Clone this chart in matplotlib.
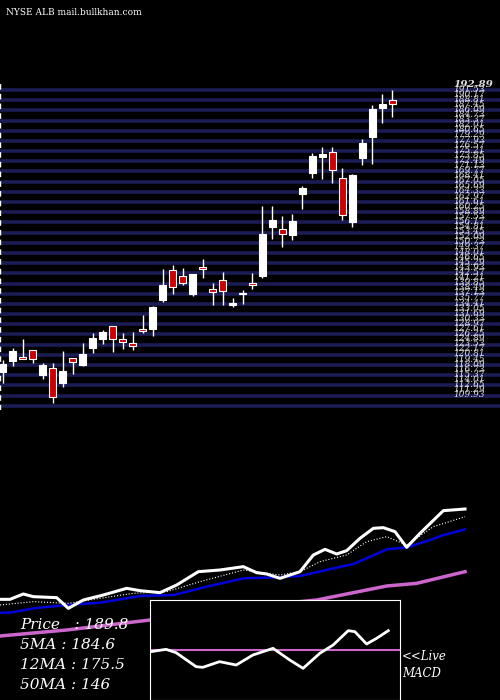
import numpy as np
import matplotlib
matplotlib.use("Agg")
import matplotlib.pyplot as plt

# candles: open, high, low, close
opens  = [117.6, 120.5, 121.6, 123.5, 116.8, 118.7, 114.7, 121.3, 119.5, 124.0,
          126.4, 129.9, 126.4, 125.3, 129.1, 129.1, 136.8, 144.8, 143.2, 138.4,
          145.6, 139.8, 142.2, 135.5, 138.3, 141.4, 143.2, 156.3, 155.8, 154.2,
          165.1, 170.7, 175.0, 176.3, 169.4, 157.6, 174.7, 180.3, 188.1, 190.2]
highs  = [120.8, 124.0, 126.4, 123.5, 120.0, 120.0, 123.2, 121.3, 125.3, 128.0,
          128.8, 129.9, 128.0, 128.3, 132.8, 135.2, 145.1, 146.2, 145.4, 143.8,
          147.8, 141.4, 144.3, 137.3, 139.5, 144.0, 161.9, 161.9, 159.2, 159.8,
          167.3, 176.1, 177.7, 177.7, 172.1, 170.5, 179.8, 188.9, 191.8, 192.9]
lows   = [114.7, 119.2, 121.1, 120.0, 115.7, 109.3, 113.6, 117.1, 119.2, 122.7,
          125.1, 122.9, 123.7, 123.5, 128.0, 127.2, 136.3, 138.4, 140.8, 137.9,
          142.7, 135.5, 135.5, 134.9, 135.8, 139.8, 142.7, 153.1, 151.0, 152.8,
          161.1, 169.4, 169.1, 168.1, 158.2, 156.3, 172.9, 173.1, 184.1, 185.7]
closes = [119.7, 123.2, 121.2, 121.1, 119.5, 110.9, 117.9, 120.3, 122.4, 126.7,
          128.3, 126.4, 125.6, 124.5, 128.5, 134.9, 140.8, 140.3, 141.4, 143.8,
          145.1, 139.0, 139.2, 136.0, 138.7, 140.8, 154.4, 158.2, 154.4, 157.9,
          166.7, 175.3, 175.8, 171.5, 159.5, 170.2, 178.7, 187.8, 189.2, 189.2]

# lower panel (screen-like units, y grows downward)
px_x = [0, 30, 70, 100, 170, 205, 250, 310, 380, 420, 480, 530, 595, 660, 730, 770,
        800, 840, 900, 940, 975, 1010, 1040, 1080, 1120, 1150, 1185, 1220, 1260, 1330, 1395]
px_y = [328, 328, 312, 320, 323, 355, 330, 315, 295, 302, 308, 285, 245, 240, 230, 248,
        252, 265, 245, 195, 178, 192, 182, 145, 115, 113, 125, 172, 130, 62, 57]
ma5_x = [0, 100, 205, 300, 400, 500, 600, 730, 840, 900, 960, 1040, 1100, 1160, 1220, 1300, 1395]
ma5_y = [345, 335, 340, 325, 310, 305, 275, 240, 255, 245, 215, 195, 155, 140, 165, 110, 80]
ma12_x = [0, 30, 100, 200, 300, 420, 520, 620, 730, 830, 900, 1000, 1060, 1160, 1220, 1290, 1330, 1395]
ma12_y = [368, 368, 355, 345, 338, 318, 315, 290, 265, 262, 258, 235, 222, 178, 172, 150, 135, 118]
ma50_x = [0, 200, 450, 700, 950, 1160, 1250, 1395]
ma50_y = [438, 420, 390, 355, 330, 288, 280, 245]
macd_x = [455, 500, 530, 590, 610, 660, 710, 760, 820, 870, 910, 960, 1000, 1045, 1065, 1100, 1130, 1165]
macd_y = [485, 478, 488, 530, 532, 515, 525, 495, 475, 510, 535, 490, 465, 422, 425, 462, 445, 422]
macd_zero = 480

grid_levels = np.arange(192.89, 106, -2.72)[:33]
label_levels = np.arange(192.89, 109, -1.36)[:62]

fig = plt.figure(figsize=(5, 7), dpi=100, facecolor="black")

# candle panel: pixels y 80-410
ax = fig.add_axes([0, 1 - 410 / 700, 1, 330 / 700])
ax.set_facecolor("black")
ax.set_xlim(-0.3, 49.8)
ax.set_ylim(107.45, 195.56)
ax.axis("off")
for lv in grid_levels:
    ax.axhline(lv, color="#1c1c55", lw=2.6, zorder=0)
for i, lv in enumerate(label_levels):
    ax.text(45.1, lv + 0.4, f"{lv:.2f}", color="#dddddd", fontsize=7.5 if i == 0 else 6.5,
            va="bottom", style="italic", family="DejaVu Serif", weight="bold" if i == 0 else "normal")
for i in range(len(opens)):
    up = closes[i] >= opens[i]
    ax.vlines(i, lows[i], highs[i], color="white", lw=1, zorder=2)
    lo, hi = sorted([opens[i], closes[i]])
    ax.bar(i, max(hi - lo, 0.5), bottom=lo, width=0.7,
           color="white" if up else "#cc0000", edgecolor="white", lw=0.8, zorder=3)
ax.axvline(-0.3, color="white", lw=1, ls=(0, (4, 3)))

# lower panel: pixels y 490-700
ax2 = fig.add_axes([0, 0, 1, 210 / 700])
ax2.set_facecolor("black")
ax2.set_xlim(0, 1500)
ax2.set_ylim(630, 0)
ax2.axis("off")
ax2.plot(ma50_x, ma50_y, color="#cc66cc", lw=2.5)
ax2.plot(ma12_x, ma12_y, color="#0000dd", lw=1.8)
ax2.plot(ma5_x, ma5_y, color="white", lw=0.8, ls=":")
ax2.plot(px_x, px_y, color="white", lw=2.2)

# MACD inset
ax3 = fig.add_axes([150 / 500, 0, 250 / 500, 100 / 700])
ax3.set_facecolor("black")
ax3.set_xlim(452, 1200)
ax3.set_ylim(630, 330)
ax3.set_xticks([])
ax3.set_yticks([])
for s in ax3.spines.values():
    s.set_color("white")
ax3.axhline(macd_zero, color="#cc66cc", lw=1.5)
ax3.plot(macd_x, macd_y, color="white", lw=2)

fig.text(0.012, 0.988, "NYSE ALB mail.bullkhan.com", color="white", fontsize=6.5, va="top",
         family="DejaVu Serif")
labels = ["Price   : 189.8", "5MA : 184.6", "12MA : 175.5", "50MA : 146"]
for k, t in enumerate(labels):
    fig.text(20 / 500, 1 - (625 + k * 20) / 700, t, color="white", fontsize=11, va="center",
             style="italic", family="DejaVu Serif")
fig.text(402 / 500, 1 - 665 / 700, "<<Live\nMACD", color="white", fontsize=8.5, va="center",
         style="italic", family="DejaVu Serif", linespacing=1.4)

fig.savefig("out.png", dpi=100, facecolor="black")
